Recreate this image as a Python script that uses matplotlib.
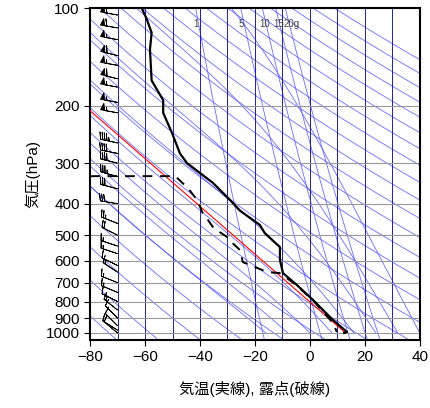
import numpy as np
import matplotlib
matplotlib.use("Agg")
import matplotlib.pyplot as plt

plt.rcParams['font.family'] = ['Liberation Sans', 'Noto Sans CJK JP']

# Observed temperature profile
t_p = [100, 108, 119, 134, 167, 192, 210, 242, 280, 300, 345, 390, 420, 465, 493, 544, 596, 654, 712, 791, 912, 993, 1000]
t_T = [-61.2, -59.4, -57.6, -58.2, -57.6, -53.4, -53.4, -50.2, -47.3, -44.7, -35.3, -29.0, -25.5, -18.2, -16.4, -10.9, -10.9, -9.8, -4.7, 1.1, 8.4, 13.5, 12.5]
# Dewpoint profile
d_p = [329, 329, 358, 390, 428, 450, 476, 507, 530, 555, 605, 649, 654, 701, 791, 932, 993]
d_T = [-80, -49, -44.4, -41, -39, -37, -35, -30, -28, -25.5, -24.4, -15.6, -11, -6, 1, 8.4, 9.8]
# Red parcel line
r_p = [1000, 200]
r_T = [13, -82]
# Wind (u, v in knots)
w_p = [105, 115, 125, 140, 150, 165, 175, 195, 210, 260, 280, 300, 330, 360, 400, 460, 500, 540, 570, 620, 650, 700, 750, 800, 850, 900, 950, 980, 1000]
w_u = [55, 60, 55, 60, 55, 60, 55, 55, 55, 45, 40, 40, 35, 30, 30, 25, 20, 15, 15, 10, 12, 15, 12, 10, 10, 8, 8, 8, 6]
w_v = [-10, -10, -10, -15, -10, -15, -10, -10, -10, -10, -8, -10, -10, -8, -5, -10, -10, -5, -5, -5, -8, -6, -5, -5, -8, -8, -8, -5, -5]

xticks = [-80, -60, -40, -20, 0, 20, 40]
yticks = [100, 200, 300, 400, 500, 600, 700, 800, 900, 1000]

fig = plt.figure(figsize=(4.31, 4.08), dpi=100)
ax = fig.add_axes([0.209, 0.167, 0.765, 0.813])
ax.set_yscale('log')
ax.set_xlim(-80, 40)
ax.set_ylim(1050, 100)

P = np.logspace(np.log10(100), np.log10(1050), 200)
bl = dict(color='#5050ff', lw=0.6, alpha=0.85, zorder=1)
# dry adiabats
for th in range(200, 560, 15):
    ax.plot(th * (P / 1000) ** 0.286 - 273.15, P, **bl)

def es(T):
    return 6.112 * np.exp(17.67 * T / (T + 243.5))

# moist adiabats
for t0 in range(-16, 45, 8):
    T = float(t0); p = 1000.0
    ps, ts = [p], [T]
    while p > 100:
        dp = -5.0
        Tk = T + 273.15
        ws = 0.622 * es(T) / (p - es(T))
        Lv = 2.5e6
        num = 287 * Tk + Lv * ws
        den = 1004 + Lv * Lv * ws * 0.622 / (287 * Tk * Tk)
        T += num / den / p * dp; p += dp
        ps.append(p); ts.append(T)
    ax.plot(ts, ps, **bl)

# mixing ratio lines
for w in [1, 5, 10, 15, 20]:
    e = w * P / (622 + w)
    ln = np.log(e / 6.112)
    Td = 243.5 * ln / (17.67 - ln)
    ax.plot(Td, P, **bl)
for lab, x in [('1', -41.5), ('5', -25), ('10', -16.5), ('15', -11.5), ('20g', -6.5)]:
    ax.text(x, 112, lab, fontsize=7, color='#444444', ha='center', va='center')

for t in range(-70, 40, 10):
    ax.axvline(t, color='#2020a0', lw=0.7, zorder=1)
for p in yticks:
    ax.axhline(p, color='#999999', lw=0.8, zorder=1)

ax.plot(r_T, r_p, color='red', lw=0.8, zorder=3)
ax.plot(t_T, t_p, color='black', lw=1.6, zorder=4)
ax.plot(d_T, d_p, color='black', lw=1.4, ls=(0, (5, 4)), zorder=4)
ax.barbs(np.full(len(w_p), -70.0), w_p, np.array(w_u), np.array(w_v), length=5, lw=0.6, zorder=5)

ax.set_xticks(xticks)
ax.set_yticks(yticks)
ax.set_yticklabels([str(v) for v in yticks])
ax.yaxis.set_minor_locator(matplotlib.ticker.NullLocator())
ax.tick_params(labelsize=11, direction='out', length=4)
ax.set_xlabel('気温(実線), 露点(破線)', fontsize=11, labelpad=12)
ax.set_ylabel('気圧(hPa)', fontsize=11)
for s in ax.spines.values():
    s.set_linewidth(1.5)
fig.savefig('out.png', dpi=100)
